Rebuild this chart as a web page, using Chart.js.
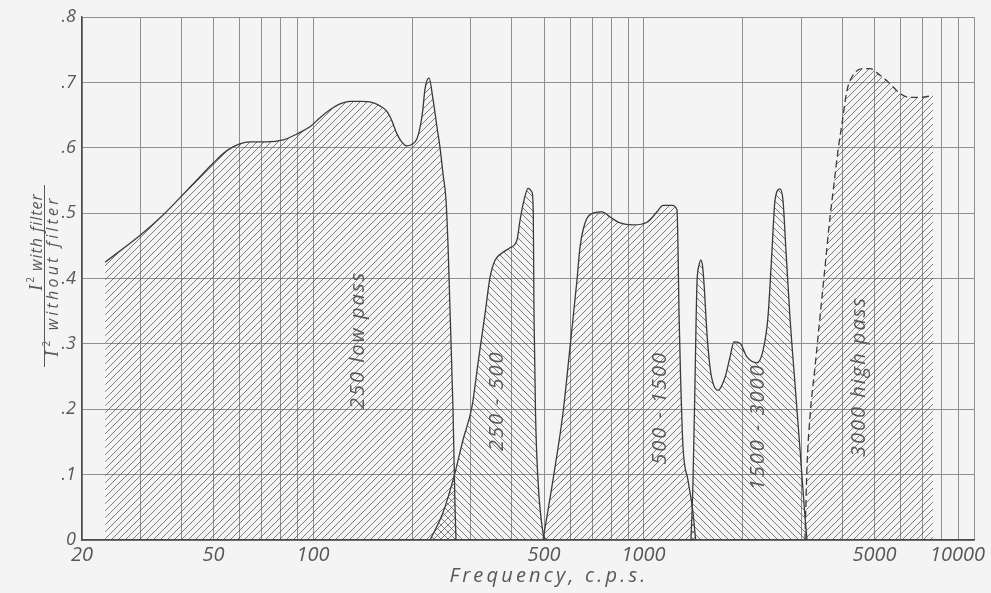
<!DOCTYPE html>
<html>
<head>
<meta charset="utf-8">
<title>Filter response</title>
<script src="https://cdn.jsdelivr.net/npm/chart.js@4.4.1/dist/chart.umd.min.js"></script>
<style>
  html, body { margin: 0; padding: 0; background: #f4f4f4; }
  #wrap { width: 991px; height: 593px; }
</style>
</head>
<body>
<div id="wrap"><canvas id="chart" width="991" height="593"></canvas></div>
<script>
// Ratio of I² with / without filter (frequency in c.p.s.)
const lowPass250Freq = [23.5, 30, 35, 40, 45, 50, 55, 60, 64.5, 72.4, 81.2, 89.3, 97.9, 105, 112.6, 120.7,
  129.4, 140, 148.7, 159.4, 167.1, 173, 179.2, 185.5, 192.1, 198.9, 206, 210.8, 214.8, 218.2, 224.4,
  230.6, 237.3, 242.2, 247.4, 252.6, 256.2, 259.8, 265.2, 269, 270.8];
const lowPass250Ratio = [0.425, 0.466, 0.496, 0.526, 0.553, 0.577, 0.596, 0.606, 0.609, 0.609, 0.612, 0.621,
  0.632, 0.646, 0.658, 0.667, 0.671, 0.671, 0.670, 0.664, 0.656, 0.642, 0.622, 0.609, 0.603, 0.605, 0.613,
  0.631, 0.657, 0.690, 0.707, 0.675, 0.631, 0.601, 0.560, 0.520, 0.450, 0.350, 0.200, 0.050, 0];

const band250Freq = [226, 247.4, 269, 284.3, 302.7, 315.8, 331.7, 343.3, 355.4, 373.2, 394.5, 414.2, 423,
  435, 447.3, 459.9, 464, 466.3, 471.2, 479.4, 496.4, 507];
const band250Ratio = [0, 0.042, 0.103, 0.153, 0.204, 0.271, 0.347, 0.402, 0.428, 0.439, 0.447, 0.459, 0.489,
  0.520, 0.538, 0.532, 0.500, 0.347, 0.195, 0.092, 0.011, 0];

const band500Freq = [496.4, 532.3, 570.9, 599.3, 629.2, 642.6, 665.4, 703.5, 749, 792, 849, 929.5,
  1024.6, 1098.8, 1145.6, 1220, 1262.8, 1271.6, 1280.6, 1295.6, 1316.6, 1363, 1411.6, 1438];
const band500Ratio = [0, 0.092, 0.195, 0.295, 0.398, 0.448, 0.485, 0.500, 0.502, 0.494,
  0.485, 0.482, 0.486, 0.502, 0.512, 0.512, 0.505, 0.448, 0.347, 0.245, 0.143, 0.092, 0.042, 0];

const band1500Freq = [1392, 1411.6, 1431.4, 1451.4, 1472, 1489.5, 1508, 1524, 1556, 1589, 1623, 1680.6,
  1764.8, 1827.4, 1878.8, 1958.6, 2056, 2205, 2300, 2380, 2448, 2500, 2588, 2642, 2698, 2774, 2872, 2976,
  3080, 3124];
const band1500Ratio = [0, 0.088, 0.240, 0.393, 0.420, 0.428, 0.420, 0.393, 0.316, 0.265, 0.240, 0.229, 0.249,
  0.280, 0.303, 0.301, 0.280, 0.271, 0.290, 0.341, 0.443, 0.520, 0.537, 0.520, 0.443, 0.341, 0.240, 0.138,
  0.036, 0];

const highPass3000Freq = [3080, 3124, 3190, 3304, 3420, 3542, 3668, 3771, 3878, 3987, 4129, 4305, 4613,
  4846, 5196, 5570, 5970, 6401, 6863, 7514];
const highPass3000Ratio = [0, 0.112, 0.189, 0.265, 0.341, 0.418, 0.494, 0.545, 0.596, 0.637, 0.688, 0.711,
  0.721, 0.721, 0.711, 0.698, 0.683, 0.677, 0.677, 0.680];

const filterNames = ['250 low pass', '250 - 500', '500 - 1500', '1500 - 3000', '3000 high pass'];

// log paper rulings and the values that get a number
const xGridFreqs = [20, 30, 40, 50, 60, 70, 80, 90, 100, 200, 300, 400, 500, 600, 700, 800, 900,
  1000, 2000, 3000, 4000, 5000, 6000, 7000, 8000, 9000, 10000];
const xLabelFreqs = [20, 50, 100, 500, 1000, 5000, 10000];
const yTicks = [0, 0.1, 0.2, 0.3, 0.4, 0.5, 0.6, 0.7, 0.8];

const INK = '#3b3b3b';
const TEXT = '#585858';
const SANS = '"Open Sans", "DejaVu Sans", sans-serif';

// diagonal hatch tile; rising = "/" lines, otherwise "\"
function hatch(rising) {
  const s = 7;
  const c = document.createElement('canvas');
  c.width = s; c.height = s;
  const g = c.getContext('2d');
  g.strokeStyle = 'rgba(60,60,60,0.72)';
  g.lineWidth = 0.9;
  g.beginPath();
  if (rising) {
    g.moveTo(-1, s + 1); g.lineTo(s + 1, -1);
    g.moveTo(-1, 1); g.lineTo(1, -1);
    g.moveTo(s - 1, s + 1); g.lineTo(s + 1, s - 1);
  } else {
    g.moveTo(-1, -1); g.lineTo(s + 1, s + 1);
    g.moveTo(s - 1, -1); g.lineTo(s + 1, 1);
    g.moveTo(-1, s - 1); g.lineTo(1, s + 1);
  }
  g.stroke();
  return g.createPattern(c, 'repeat');
}

function curve(label, freq, ratio, rising, dashed) {
  return {
    label,
    data: freq.map((f, i) => ({ x: f, y: ratio[i] })),
    borderColor: INK,
    borderWidth: 1.3,
    borderDash: dashed ? [7, 4] : [],
    backgroundColor: hatch(rising),
    fill: 'origin',
    pointRadius: 0,
    cubicInterpolationMode: 'monotone'
  };
}

// where each curve name sits (frequency, ratio)
const nameSpots = [[137, 0.306], [360, 0.213], [1122, 0.202], [2220, 0.173], [4490, 0.25]];

const textPlugin = {
  id: 'textPlugin',
  afterDatasetsDraw(chart) {
    const { ctx } = chart;
    const x = chart.scales.x, y = chart.scales.y;
    ctx.save();
    ctx.fillStyle = TEXT;
    ctx.font = 'italic 20px ' + SANS;
    ctx.letterSpacing = '2px';
    ctx.textAlign = 'center';
    ctx.textBaseline = 'middle';
    nameSpots.forEach((p, i) => {
      ctx.save();
      ctx.translate(x.getPixelForValue(p[0]), y.getPixelForValue(p[1]));
      ctx.rotate(-Math.PI / 2);
      ctx.fillText(filterNames[i], 0, 0);
      ctx.restore();
    });

    // x axis title
    ctx.letterSpacing = '3.2px';
    ctx.fillText('Frequency, c.p.s.', 549, 576);

    // y axis title as a fraction, turned on its side
    ratioLine(ctx, 42, 242, ' with filter', '1px');
    ratioLine(ctx, 58, 276, ' without filter', '3.2px');
    ctx.strokeStyle = TEXT;
    ctx.lineWidth = 1;
    ctx.beginPath();
    ctx.moveTo(44.5, 185);
    ctx.lineTo(44.5, 367);
    ctx.stroke();
    ctx.restore();
  }
};

function ratioLine(ctx, bx, cy, rest, spacing) {
  ctx.save();
  ctx.translate(bx, cy);
  ctx.rotate(-Math.PI / 2);
  ctx.textAlign = 'left';
  ctx.textBaseline = 'alphabetic';
  ctx.letterSpacing = spacing;
  const serif = 'italic 18px "Liberation Serif", serif';
  const sup = '10px ' + SANS;
  const sans = 'italic 16px ' + SANS;
  ctx.font = serif; const wI = ctx.measureText('I').width + 1;
  ctx.font = sup; const w2 = ctx.measureText('2').width;
  ctx.font = sans; const wR = ctx.measureText(rest).width;
  let px = -(wI + w2 + wR) / 2;
  ctx.font = serif; ctx.fillText('I', px, 0); px += wI;
  ctx.font = sup; ctx.fillText('2', px, -8); px += w2;
  ctx.font = sans; ctx.fillText(rest, px, 0);
  ctx.restore();
}

// the last number is pulled inside the frame with figure spaces
function xLabel(v) {
  if (!xLabelFreqs.includes(v)) return '';
  return v === 10000 ? '10000\u2007\u2007\u2007' : String(v);
}

new Chart(document.getElementById('chart'), {
  type: 'line',
  data: {
    datasets: [
      curve(filterNames[0], lowPass250Freq, lowPass250Ratio, true, false),
      curve(filterNames[1], band250Freq, band250Ratio, false, false),
      curve(filterNames[2], band500Freq, band500Ratio, true, false),
      curve(filterNames[3], band1500Freq, band1500Ratio, false, false),
      curve(filterNames[4], highPass3000Freq, highPass3000Ratio, true, true)
    ]
  },
  options: {
    responsive: false,
    animation: false,
    events: [],
    layout: { padding: { top: 17, right: 17, left: 0, bottom: 0 } },
    plugins: { legend: { display: false }, tooltip: { enabled: false } },
    scales: {
      x: {
        type: 'logarithmic',
        min: 20,
        max: 10000,
        afterBuildTicks: (s) => { s.ticks = xGridFreqs.map(v => ({ value: v })); },
        afterFit: (s) => { s.height = 53; s.paddingLeft = 0; s.paddingRight = 0; },
        ticks: {
          autoSkip: false,
          maxRotation: 0,
          padding: 3,
          color: TEXT,
          font: { family: SANS, size: 20, style: 'italic' },
          callback: xLabel
        },
        grid: { color: '#8f8f8f', lineWidth: 1, drawTicks: false },
        border: { color: '#4a4a4a', width: 1.4 }
      },
      y: {
        type: 'linear',
        min: 0,
        max: 0.8,
        afterBuildTicks: (s) => { s.ticks = yTicks.map(v => ({ value: v })); },
        afterFit: (s) => { s.width = 82; s.paddingTop = 0; s.paddingBottom = 0; },
        ticks: {
          padding: 6,
          color: TEXT,
          font: { family: SANS, size: 18, style: 'italic' },
          callback: (v) => v === 0 ? '0' : '.' + Math.round(v * 10)
        },
        grid: { color: '#8f8f8f', lineWidth: 1, drawTicks: false },
        border: { color: '#4a4a4a', width: 1.4 }
      }
    }
  },
  plugins: [textPlugin]
});
</script>
</body>
</html>
